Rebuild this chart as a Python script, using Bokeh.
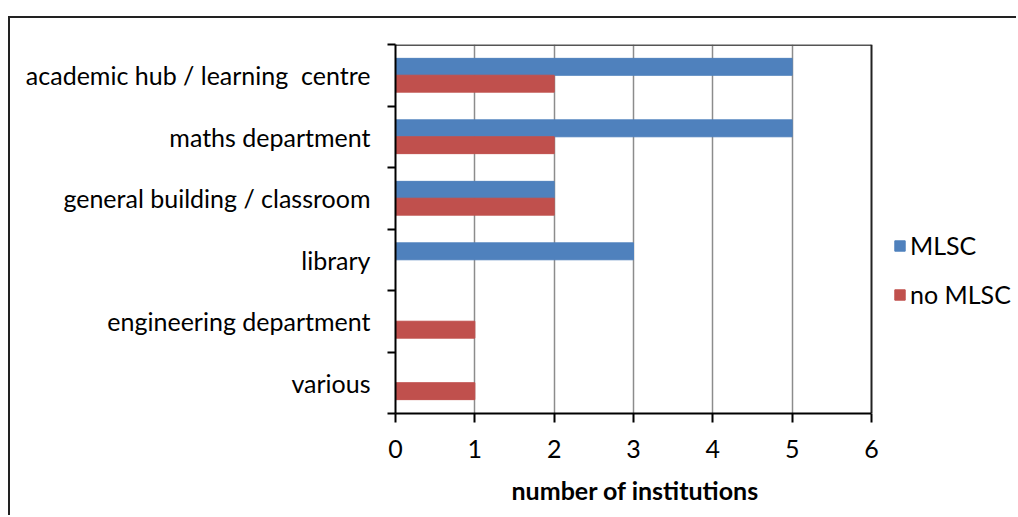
from bokeh.plotting import figure
from bokeh.models import FixedTicker, Legend, LegendItem, Range1d, Title
from bokeh.embed import file_html
from bokeh.resources import INLINE

categories = ["academic hub / learning\u00a0 centre", "maths department",
              "general building / classroom", "library",
              "engineering department", "various"]
mlsc = [5, 5, 2, 3, 0, 0]
no_mlsc = [2, 2, 2, 0, 1, 1]
x_ticks = [0, 1, 2, 3, 4, 5, 6]
x_title = "number of institutions"

n = len(categories)
xmax = x_ticks[-1]
centers = [n - i - 0.5 for i in range(n)]
offset = 0.137
bar_h = 0.275

FONT = "Lato"
FS = "25px"

FRAME_LEFT = 385
FRAME_W = 476
FIG_W = 1008
x_end = xmax * (FIG_W - FRAME_LEFT) / FRAME_W

p = figure(width=FIG_W, height=499, output_backend="svg", toolbar_location=None,
           x_range=Range1d(0, x_end), y_range=Range1d(0, n),
           min_border_left=FRAME_LEFT, min_border_right=0, min_border_top=26,
           min_border_bottom=104)
p.margin = (16, 0, 0, 8)
p.styles = {"border-top": "2px solid #222", "border-left": "2px solid #222"}
p.outline_line_color = None

r1 = p.hbar(y=[c + offset for c in centers], right=mlsc, left=0, height=bar_h,
            fill_color="#4F81BD", line_color="#4F81BD")
r2 = p.hbar(y=[c - offset for c in centers], right=no_mlsc, left=0, height=bar_h,
            fill_color="#C0504D", line_color="#C0504D")

# plot-area border (top and right)
p.segment(x0=[0], y0=[n], x1=[xmax], y1=[n], line_color="#555555", line_width=3)
p.segment(x0=[xmax], y0=[0], x1=[xmax], y1=[n], line_color="#222222", line_width=2)

# x axis
p.xaxis.bounds = (0, xmax)
p.xaxis.ticker = FixedTicker(ticks=x_ticks)
p.xaxis.major_tick_out = 9
p.xaxis.major_tick_in = 0
p.xaxis.minor_tick_out = 0
p.xaxis.axis_line_color = "black"
p.xaxis.axis_line_width = 2
p.xaxis.major_tick_line_width = 2
p.xaxis.major_label_text_font = FONT
p.xaxis.major_label_text_font_size = FS
p.xaxis.major_label_text_color = "black"
p.xaxis.major_label_standoff = 17

# x axis title, centred under the 0..6 part of the plot area
t = Title(text=x_title, align="left", offset=116, standoff=25,
          text_font=FONT, text_font_size=FS, text_font_style="bold",
          text_color="black")
p.add_layout(t, "below")

# y axis
p.yaxis.ticker = FixedTicker(ticks=centers, minor_ticks=list(range(n + 1)))
p.yaxis.major_label_overrides = {c: lab for c, lab in zip(centers, categories)}
p.yaxis.major_tick_out = 0
p.yaxis.major_tick_in = 0
p.yaxis.minor_tick_out = 8
p.yaxis.minor_tick_in = 0
p.yaxis.minor_tick_line_width = 2
p.yaxis.axis_line_color = "black"
p.yaxis.axis_line_width = 2
p.yaxis.major_label_text_font = FONT
p.yaxis.major_label_text_font_size = FS
p.yaxis.major_label_text_color = "black"
p.yaxis.major_label_standoff = 17

# grid
p.xgrid.ticker = FixedTicker(ticks=x_ticks[1:-1])
p.xgrid.grid_line_color = "#8c8c8c"
p.xgrid.grid_line_width = 1.5
p.ygrid.grid_line_color = None

legend = Legend(items=[LegendItem(label="MLSC", renderers=[r1]),
                       LegendItem(label="no MLSC", renderers=[r2])],
                location=(498, 104))
legend.border_line_color = None
legend.background_fill_alpha = 0
legend.padding = 0
legend.margin = 0
legend.glyph_width = 13
legend.glyph_height = 13
legend.label_height = 25
legend.spacing = 19
legend.label_standoff = 4
legend.label_text_font = FONT
legend.label_text_font_size = FS
legend.label_text_color = "black"
p.add_layout(legend, "center")

open("out.html", "w").write(file_html(p, INLINE))
